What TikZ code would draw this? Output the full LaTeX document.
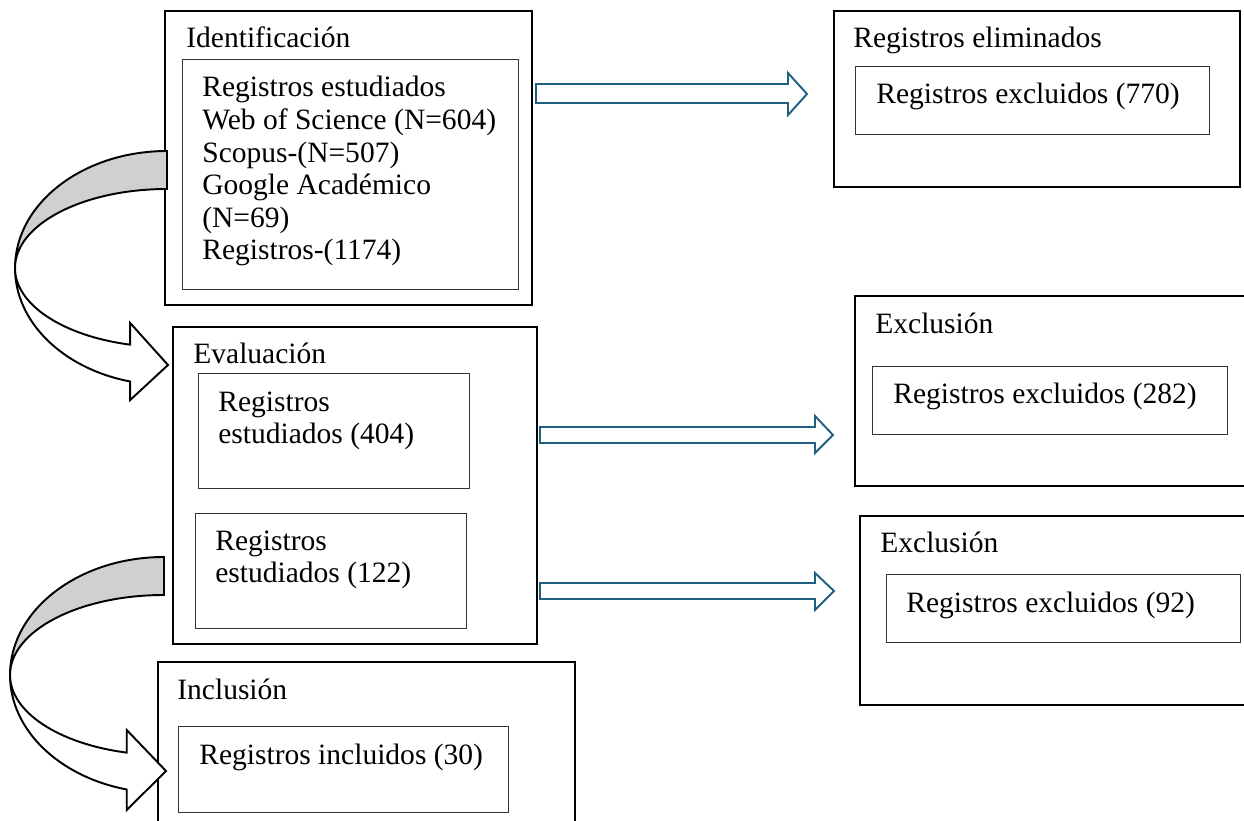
\documentclass[tikz,border=0pt]{standalone}
\usepackage{fontspec}
\setmainfont{Liberation Serif}
\newlength\pxu
\setlength\pxu{0.02cm}
\definecolor{flowblue}{RGB}{31,96,130}
\definecolor{bandgray}{RGB}{208,208,208}
\begin{document}
\begin{tikzpicture}[x=0.02cm,y=0.02cm,
  outerbox/.style={draw=black, line width=1.2pt, inner sep=0pt, anchor=north west},
  innerbox/.style={draw=black!80, line width=0.7pt, inner sep=0pt, anchor=north west},
  txt/.style={anchor=base west, inner sep=0pt, font=\fontsize{16.8pt}{18.8pt}\selectfont},
  blockarrow/.style={draw=flowblue, line width=1.1pt, fill=white, line join=miter},
  bendarrow/.style={draw=black, line width=1.1pt, line join=miter}]
\useasboundingbox (0,0) rectangle (1244,-821);
\clip (0,0) rectangle (1244,-821);

% frames
\node[outerbox, minimum width=367*\pxu, minimum height=294*\pxu] (ident) at (164,-10) {};
\node[innerbox, minimum width=336*\pxu, minimum height=230*\pxu] (identIn) at (182,-59) {};
\node[outerbox, minimum width=406*\pxu, minimum height=176*\pxu] (elim) at (833,-10) {};
\node[innerbox, minimum width=354*\pxu, minimum height=68*\pxu] (elimIn) at (855,-66) {};
\node[outerbox, minimum width=364*\pxu, minimum height=317*\pxu] (eval) at (172,-326) {};
\node[innerbox, minimum width=271*\pxu, minimum height=115*\pxu] (evalA) at (198,-373) {};
\node[innerbox, minimum width=271*\pxu, minimum height=115*\pxu] (evalB) at (195,-513) {};
\node[outerbox, minimum width=416*\pxu, minimum height=190*\pxu] (exclA) at (854,-295) {};
\node[innerbox, minimum width=355*\pxu, minimum height=68*\pxu] (exclAIn) at (872,-366) {};
\node[outerbox, minimum width=411*\pxu, minimum height=189*\pxu] (exclB) at (859,-515) {};
\node[innerbox, minimum width=354*\pxu, minimum height=68*\pxu] (exclBIn) at (886,-574) {};
\node[outerbox, minimum width=417*\pxu, minimum height=179*\pxu] (incl) at (157,-661) {};
\node[innerbox, minimum width=330*\pxu, minimum height=86*\pxu] (inclIn) at (178,-726) {};

% labels
\node[txt] (tIdent) at (186,-48) {Identificación};
\node[txt] (tI1) at (202,-97) {Registros estudiados};
\node[txt] (tI2) at (202,-129.5) {Web of Science (N=604)};
\node[txt] (tI3) at (202,-162) {Scopus-(N=507)};
\node[txt] (tI4) at (202,-194.5) {Google Académico};
\node[txt] (tI5) at (202,-227) {(N=69)};
\node[txt] (tI6) at (202,-259.5) {Registros-(1174)};
\node[txt] (tElim) at (853,-48) {Registros eliminados};
\node[txt] (tElimIn) at (876,-104) {Registros excluidos (770)};
\node[txt] (tEval) at (193,-363) {Evaluación};
\node[txt] (tEA1) at (218,-411) {Registros};
\node[txt] (tEA2) at (218,-443) {estudiados (404)};
\node[txt] (tEB1) at (215,-550) {Registros};
\node[txt] (tEB2) at (215,-582) {estudiados (122)};
\node[txt] (tExA) at (875,-333) {Exclusión};
\node[txt] (tExAIn) at (893,-403) {Registros excluidos (282)};
\node[txt] (tExB) at (880,-552) {Exclusión};
\node[txt] (tExBIn) at (906,-612) {Registros excluidos (92)};
\node[txt] (tIncl) at (177,-699) {Inclusión};
\node[txt] (tInclIn) at (199,-764) {Registros incluidos (30)};

% block arrows to the right
\draw[blockarrow] (536,-84) -- (788,-84) -- (788,-73) -- (807,-94) -- (788,-115) -- (788,-103) -- (536,-103) -- cycle;
\draw[blockarrow] (540,-427) -- (815,-427) -- (815,-416) -- (833,-435) -- (815,-453) -- (815,-443) -- (540,-443) -- cycle;
\draw[blockarrow] (540,-583) -- (815,-583) -- (815,-573) -- (834,-591) -- (815,-610) -- (815,-599) -- (540,-599) -- cycle;

% curved arrow: Identificación -> Evaluación
\draw[bendarrow, fill=bandgray] (167,-151)
  arc[start angle=90, end angle=180, x radius=3.04cm, y radius=2.34cm]
  arc[start angle=180, end angle=90, x radius=3.04cm, y radius=1.58cm] -- cycle;
\draw[bendarrow, fill=white] (15,-268)
  arc[start angle=180, end angle=256, x radius=3.04cm, y radius=2.34cm]
  -- (130.2,-400) -- (168,-365) -- (130.2,-323) -- (130.2,-344.65)
  arc[start angle=256, end angle=180, x radius=3.04cm, y radius=1.58cm] -- cycle;

% curved arrow: Evaluación -> Inclusión
\draw[bendarrow, fill=bandgray] (164,-557)
  arc[start angle=90, end angle=180, x radius=3.08cm, y radius=2.36cm]
  arc[start angle=180, end angle=90, x radius=3.08cm, y radius=1.6cm] -- cycle;
\draw[bendarrow, fill=white] (10,-675)
  arc[start angle=180, end angle=256, x radius=3.08cm, y radius=2.36cm]
  -- (126.74,-810) -- (166,-771) -- (126.74,-730) -- (126.74,-752.6)
  arc[start angle=256, end angle=180, x radius=3.08cm, y radius=1.6cm] -- cycle;
\end{tikzpicture}
\end{document}
